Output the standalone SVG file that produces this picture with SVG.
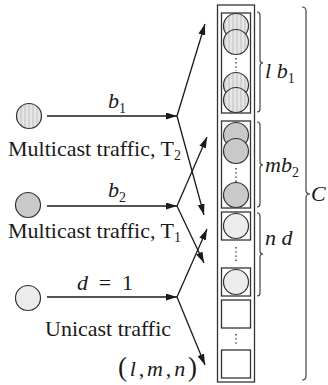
<svg xmlns="http://www.w3.org/2000/svg" width="328" height="385" viewBox="0 0 328 385">
<style>
text{font-family:"Liberation Serif","Times New Roman",serif;font-size:22px;fill:#1a1a1a}
.it{font-style:italic}
.sub{font-size:14px;font-style:normal}
.ln{stroke:#1a1a1a;stroke-width:1.3;fill:none}
.box{fill:#fff;stroke:#333;stroke-width:1.3}
.c1{fill:url(#stripe);stroke:#333;stroke-width:1.2}
.c2{fill:#c9c9c9;stroke:#333;stroke-width:1.2}
.c3{fill:#ececec;stroke:#333;stroke-width:1.2}
.dots{stroke:#333;stroke-width:1.4;stroke-dasharray:1.4 2.8;fill:none}
.brace{stroke:#444;stroke-width:1.2;fill:none}
</style>
<defs>
<pattern id="stripe" patternUnits="userSpaceOnUse" width="4" height="4">
<rect width="4" height="4" fill="#e6e6e6"/>
<rect width="2" height="4" fill="#d2d2d2"/>
</pattern>
<marker id="ah" markerUnits="userSpaceOnUse" markerWidth="11" markerHeight="7" refX="11" refY="3.5" orient="auto">
<path d="M0,0 L11,3.5 L0,7 z" fill="#1a1a1a"/>
</marker>
</defs>

<g id="src-t2">
<circle class="c1" cx="29" cy="116" r="12.5"/>
<text x="8" y="156">Multicast traffic, T<tspan class="sub" dy="4">2</tspan></text>
</g>
<g id="src-t1">
<circle class="c2" cx="28" cy="205" r="12.5"/>
<text x="8" y="238">Multicast traffic, T<tspan class="sub" dy="4">1</tspan></text>
</g>
<g id="src-uni">
<circle class="c3" cx="28" cy="298" r="12.5"/>
<text x="45" y="336">Unicast traffic</text>
</g>

<g id="connectors">
<line class="ln" x1="47" y1="116" x2="177" y2="116" marker-end="url(#ah)"/>
<line class="ln" x1="47" y1="206" x2="177" y2="206" marker-end="url(#ah)"/>
<line class="ln" x1="47" y1="297" x2="177" y2="297" marker-end="url(#ah)"/>
<line class="ln" x1="177" y1="116" x2="205" y2="24" marker-end="url(#ah)"/>
<line class="ln" x1="177" y1="116" x2="204" y2="215" marker-end="url(#ah)"/>
<line class="ln" x1="177" y1="206" x2="207" y2="137" marker-end="url(#ah)"/>
<line class="ln" x1="177" y1="206" x2="204" y2="263" marker-end="url(#ah)"/>
<line class="ln" x1="177" y1="297" x2="207" y2="229" marker-end="url(#ah)"/>
<line class="ln" x1="177" y1="297" x2="205" y2="365" marker-end="url(#ah)"/>
</g>

<g id="edge-labels">
<text x="108" y="108"><tspan class="it">b</tspan><tspan class="sub" dy="5">1</tspan></text>
<text x="108" y="197"><tspan class="it">b</tspan><tspan class="sub" dy="5">2</tspan></text>
<text x="77" y="290" textLength="56" lengthAdjust="spacing"><tspan class="it">d</tspan> = 1</text>
<text x="118" y="376" textLength="79" lengthAdjust="spacing"><tspan font-size="27">(</tspan><tspan class="it">l</tspan>,<tspan class="it">m</tspan>,<tspan class="it">n</tspan><tspan font-size="27">)</tspan></text>
</g>

<g id="column">
<rect class="box" x="217.5" y="5" width="37" height="377"/>
<g id="group-lb1">
<rect class="box" x="221.5" y="13" width="29" height="100"/>
<circle class="c1" cx="236" cy="26" r="12.5"/>
<circle class="c1" cx="236" cy="42" r="12.5"/>
<line class="dots" x1="236" y1="58" x2="236" y2="71"/>
<circle class="c1" cx="236" cy="85" r="12.5"/>
<circle class="c1" cx="236" cy="100" r="12.5"/>
</g>
<g id="group-mb2">
<rect class="box" x="221.5" y="121" width="29" height="87"/>
<circle class="c2" cx="236" cy="135" r="12.5"/>
<circle class="c2" cx="236" cy="151" r="12.5"/>
<line class="dots" x1="236" y1="168" x2="236" y2="182"/>
<circle class="c2" cx="236" cy="195" r="12.5"/>
</g>
<g id="group-nd">
<rect class="box" x="221.5" y="212" width="29" height="28"/>
<circle class="c3" cx="236" cy="226" r="12.5"/>
<line class="dots" x1="236" y1="247" x2="236" y2="263"/>
<rect class="box" x="221.5" y="268" width="29" height="28"/>
<circle class="c3" cx="236" cy="282" r="12.5"/>
</g>
<g id="group-empty">
<rect class="box" x="221.5" y="300" width="29" height="28"/>
<line class="dots" x1="236" y1="334" x2="236" y2="346"/>
<rect class="box" x="221.5" y="350" width="29" height="28"/>
</g>
</g>

<g id="braces">
<path class="brace" d="M257,12 Q260,12 260,15 L260,60 Q260,63 263,63 Q260,63 260,66 L260,109 Q260,112 257,112"/>
<path class="brace" d="M257,122 Q260,122 260,125 L260,162 Q260,165 263,165 Q260,165 260,168 L260,204 Q260,207 257,207"/>
<path class="brace" d="M257,213 Q260,213 260,216 L260,251 Q260,254 263,254 Q260,254 260,257 L260,293 Q260,296 257,296"/>
<path class="brace" d="M302,7 Q306,7 306,11 L306,190 Q306,194 310,194 Q306,194 306,198 L306,376 Q306,380 302,380"/>
</g>

<g id="brace-labels">
<text x="265" y="78"><tspan class="it">l</tspan> <tspan class="it">b</tspan><tspan class="sub" dy="5">1</tspan></text>
<text x="265" y="172"><tspan class="it">m</tspan><tspan class="it">b</tspan><tspan class="sub" dy="5">2</tspan></text>
<text x="265" y="245"><tspan class="it">n</tspan> <tspan class="it">d</tspan></text>
<text x="311" y="201" class="it">C</text>
</g>
</svg>
